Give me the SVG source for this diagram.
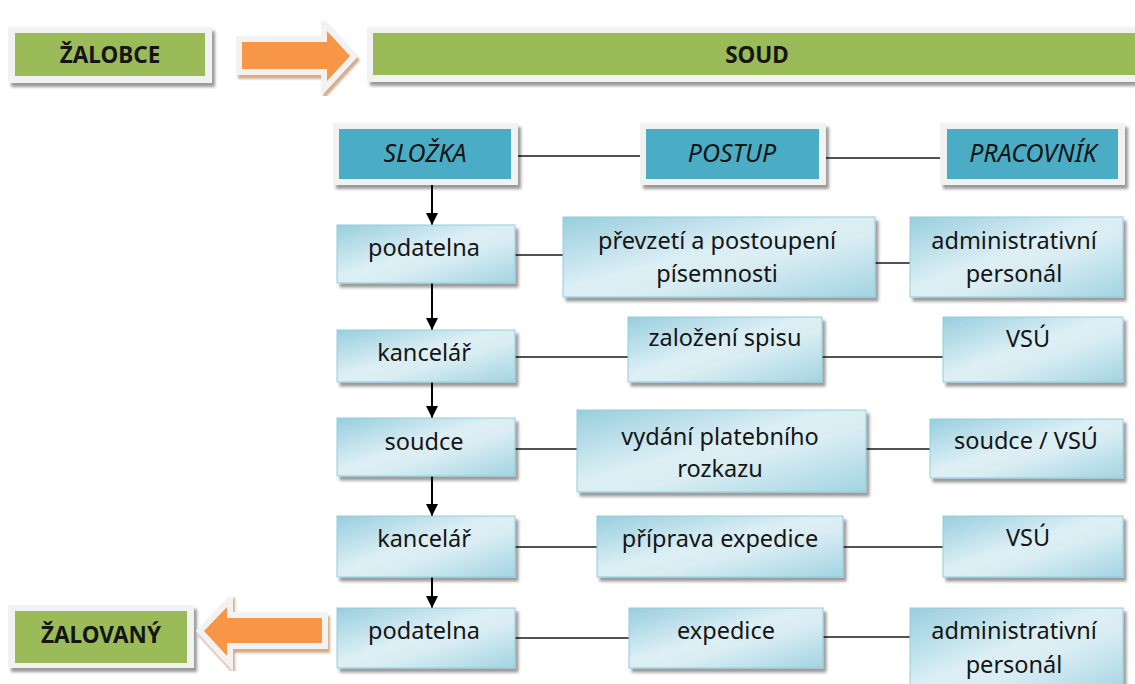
<svg xmlns="http://www.w3.org/2000/svg" width="1135" height="684" viewBox="0 0 1135 684">
<defs>
<linearGradient id="cell" x1="0" y1="0" x2="1" y2="1">
<stop offset="0" stop-color="#98cede"/>
<stop offset="0.45" stop-color="#dcEff5"/>
<stop offset="0.6" stop-color="#d9edf3"/>
<stop offset="1" stop-color="#a2d4e2"/>
</linearGradient>
<filter id="sh" x="-10%" y="-20%" width="125%" height="150%">
<feDropShadow dx="3" dy="4" stdDeviation="1.4" flood-color="#000" flood-opacity="0.4"/>
</filter>
<filter id="ash" x="-10%" y="-20%" width="125%" height="150%">
<feDropShadow dx="2" dy="4" stdDeviation="1" flood-color="#b06a30" flood-opacity="0.55"/>
</filter>
<marker id="ah" viewBox="0 0 12 12" refX="12" refY="6" markerWidth="12" markerHeight="12" markerUnits="userSpaceOnUse" orient="auto">
<path d="M0,0 L12,6 L0,12 Z" fill="#000"/>
</marker>
</defs>
<style>
.frame{fill:#f2f2f2;filter:url(#sh)}
.green{fill:#9bbb59}
.blue{fill:#4bacc6}
.cell{fill:url(#cell);stroke:#93cbdb;stroke-width:1;filter:url(#sh)}
.t{font-family:"Noto Sans","Open Sans",sans-serif;font-size:23.5px;fill:#151515;text-anchor:middle}
.h{font-family:"Noto Sans","Open Sans",sans-serif;font-size:25px;font-style:italic;fill:#151515;text-anchor:middle}
.b{font-family:"Noto Sans","Open Sans",sans-serif;font-size:22.5px;font-weight:bold;fill:#151515;text-anchor:middle}
.ln{stroke:#1a1a1a;stroke-width:1.6;fill:none}
.ar{stroke:#000;stroke-width:2;fill:none;marker-end:url(#ah)}
.arrow{fill:#f79646;stroke:#f2f2f2;stroke-width:12;stroke-linejoin:miter;stroke-miterlimit:4;paint-order:stroke;filter:url(#ash)}
</style>

<g id="zalobce">
<rect class="frame" x="8" y="27" width="204" height="56"/>
<rect class="green" x="15" y="33" width="190" height="43"/>
<text class="b" x="110" y="63">ŽALOBCE</text>
</g>

<g id="arrow-in">
<polygon class="arrow" points="242,42 327,42 327,31 350,56 327,81 327,69 242,69"/>
</g>

<g id="soud">
<rect class="frame" x="367" y="27" width="780" height="55"/>
<rect class="green" x="373" y="33" width="770" height="42"/>
<text class="b" x="757" y="63">SOUD</text>
</g>

<g id="zalovany">
<rect class="frame" x="8" y="605" width="186" height="63"/>
<rect class="green" x="15" y="611" width="172" height="52"/>
<text class="b" x="101" y="643">ŽALOVANÝ</text>
</g>

<g id="arrow-out">
<polygon class="arrow" points="204,631 227,607 227,618 322,618 322,643 227,643 227,656"/>
</g>

<g id="connectors">
<line class="ln" x1="518" y1="156" x2="640" y2="156"/>
<line class="ln" x1="826" y1="158" x2="940" y2="158"/>
<line class="ln" x1="515" y1="255" x2="563" y2="255"/>
<line class="ln" x1="875" y1="263" x2="910" y2="263"/>
<line class="ln" x1="515" y1="357" x2="628" y2="357"/>
<line class="ln" x1="822" y1="357" x2="943" y2="357"/>
<line class="ln" x1="515" y1="449" x2="577" y2="449"/>
<line class="ln" x1="866" y1="449" x2="930" y2="449"/>
<line class="ln" x1="515" y1="547" x2="597" y2="547"/>
<line class="ln" x1="843" y1="547" x2="943" y2="547"/>
<line class="ln" x1="515" y1="638" x2="629" y2="638"/>
<line class="ln" x1="823" y1="637" x2="910" y2="637"/>
<line class="ar" x1="432" y1="185" x2="432" y2="225"/>
<line class="ar" x1="432" y1="283" x2="432" y2="330"/>
<line class="ar" x1="432" y1="382" x2="432" y2="418"/>
<line class="ar" x1="432" y1="476" x2="432" y2="516"/>
<line class="ar" x1="432" y1="577" x2="432" y2="608"/>
</g>

<g id="h-slozka">
<rect class="frame" x="333" y="123" width="185" height="62"/>
<rect class="blue" x="339" y="129" width="172" height="50"/>
<text class="h" x="425" y="162">SLOŽKA</text>
</g>
<g id="h-postup">
<rect class="frame" x="640" y="123" width="186" height="62"/>
<rect class="blue" x="646" y="129" width="173" height="50"/>
<text class="h" x="732" y="162">POSTUP</text>
</g>
<g id="h-pracovnik">
<rect class="frame" x="940" y="123" width="185" height="62"/>
<rect class="blue" x="947" y="129" width="171" height="50"/>
<text class="h" x="1033" y="162">PRACOVNÍK</text>
</g>

<g id="r1-slozka">
<rect class="cell" x="337" y="225" width="178" height="58"/>
<text class="t" x="424" y="256">podatelna</text>
</g>
<g id="r1-postup">
<rect class="cell" x="563" y="217" width="312" height="80"/>
<text class="t" x="717" y="249">převzetí a postoupení</text>
<text class="t" x="717" y="282">písemnosti</text>
</g>
<g id="r1-pracovnik">
<rect class="cell" x="910" y="217" width="213" height="80"/>
<text class="t" x="1014" y="249">administrativní</text>
<text class="t" x="1014" y="282">personál</text>
</g>

<g id="r2-slozka">
<rect class="cell" x="337" y="330" width="178" height="52"/>
<text class="t" x="424" y="361">kancelář</text>
</g>
<g id="r2-postup">
<rect class="cell" x="628" y="317" width="194" height="65"/>
<text class="t" x="725" y="346">založení spisu</text>
</g>
<g id="r2-pracovnik">
<rect class="cell" x="943" y="317" width="180" height="65"/>
<text class="t" x="1028" y="347">VSÚ</text>
</g>

<g id="r3-slozka">
<rect class="cell" x="337" y="418" width="178" height="58"/>
<text class="t" x="424" y="450">soudce</text>
</g>
<g id="r3-postup">
<rect class="cell" x="577" y="410" width="289" height="82"/>
<text class="t" x="720" y="445">vydání platebního</text>
<text class="t" x="720" y="477">rozkazu</text>
</g>
<g id="r3-pracovnik">
<rect class="cell" x="930" y="419" width="193" height="59"/>
<text class="t" x="1026" y="449">soudce / VSÚ</text>
</g>

<g id="r4-slozka">
<rect class="cell" x="337" y="516" width="178" height="61"/>
<text class="t" x="424" y="547">kancelář</text>
</g>
<g id="r4-postup">
<rect class="cell" x="597" y="516" width="246" height="61"/>
<text class="t" x="720" y="547">příprava expedice</text>
</g>
<g id="r4-pracovnik">
<rect class="cell" x="943" y="516" width="180" height="61"/>
<text class="t" x="1028" y="546">VSÚ</text>
</g>

<g id="r5-slozka">
<rect class="cell" x="337" y="608" width="178" height="60"/>
<text class="t" x="424" y="639">podatelna</text>
</g>
<g id="r5-postup">
<rect class="cell" x="629" y="608" width="194" height="60"/>
<text class="t" x="726" y="639">expedice</text>
</g>
<g id="r5-pracovnik">
<rect class="cell" x="910" y="608" width="213" height="90"/>
<text class="t" x="1014" y="639">administrativní</text>
<text class="t" x="1014" y="673">personál</text>
</g>
</svg>
